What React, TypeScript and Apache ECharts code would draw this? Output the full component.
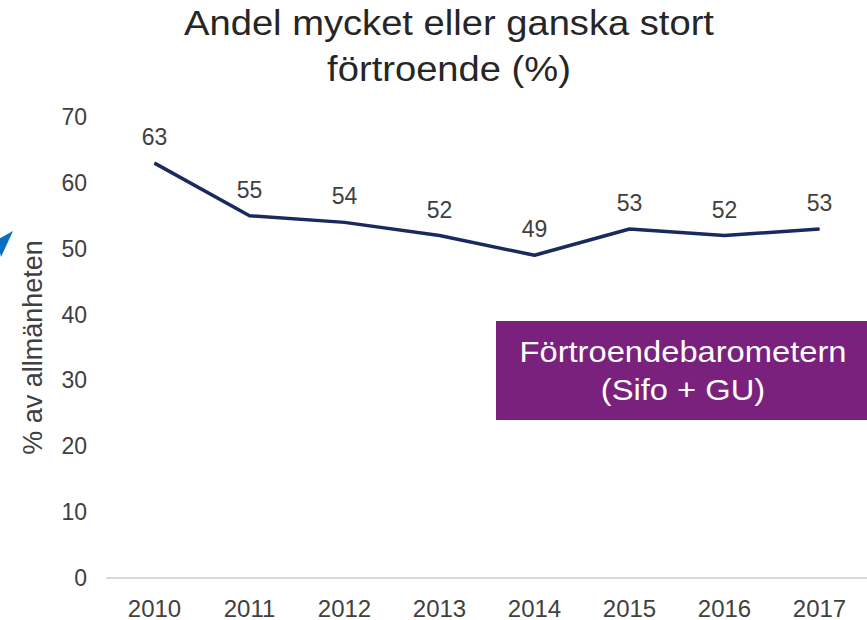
import React, { useEffect, useRef } from "react";
import * as echarts from "echarts";

const years = ["2010", "2011", "2012", "2013", "2014", "2015", "2016", "2017"];
const values = [63, 55, 54, 52, 49, 53, 52, 53];
const titleText = "Andel mycket eller ganska stort\nförtroende (%)";
const yName = "% av allmänheten";
const boxText = "Förtroendebarometern\n(Sifo + GU)";

export default function App() {
  const ref = useRef<HTMLDivElement>(null);
  useEffect(() => {
    const chart = echarts.init(ref.current!, undefined, { renderer: "svg" });
    const font = "Liberation Sans, Arial, sans-serif";
    chart.setOption({
      animation: false,
      backgroundColor: "#ffffff",
      textStyle: { fontFamily: font },
      grid: { left: 107, right: -15, top: 117, bottom: 42, containLabel: false },
      xAxis: {
        type: "category",
        data: years,
        boundaryGap: true,
        axisLine: { show: true, lineStyle: { color: "#d9d9d9", width: 2 } },
        axisTick: { show: false },
        axisLabel: { fontSize: 24, color: "#404040", margin: 18, fontFamily: font },
      },
      yAxis: {
        type: "value",
        min: 0,
        max: 70,
        interval: 10,
        name: yName,
        nameLocation: "middle",
        nameGap: 61,
        nameTextStyle: { fontSize: 27, color: "#404040", fontFamily: font },
        axisLine: { show: false },
        axisTick: { show: false },
        splitLine: { show: false },
        axisLabel: { fontSize: 23, color: "#404040", margin: 20, fontFamily: font },
      },
      series: [
        {
          type: "line",
          data: values,
          symbol: "circle",
          symbolSize: 1,
          itemStyle: { color: "#1b2a5e" },
          lineStyle: { color: "#1b2a5e", width: 3.5 },
          label: {
            show: true,
            position: "top",
            distance: 14,
            fontSize: 23,
            color: "#404040",
            fontFamily: font,
          },
        },
      ],
      graphic: [
        {
          type: "text",
          x: 449,
          y: 0,
          scaleX: 1.09,
          style: {
            text: titleText,
            fill: "#262626",
            fontSize: 35,
            lineHeight: 46,
            align: "center",
            verticalAlign: "top",
            fontFamily: font,
          },
        },
        {
          type: "rect",
          shape: { x: 496, y: 321, width: 380, height: 99 },
          style: { fill: "#7a217d" },
        },
        {
          type: "text",
          x: 683,
          y: 371,
          scaleX: 1.09,
          style: {
            text: boxText,
            fill: "#ffffff",
            fontSize: 30,
            lineHeight: 38,
            align: "center",
            verticalAlign: "middle",
            fontFamily: font,
          },
        },
        {
          type: "polygon",
          shape: { points: [[13, 231], [-3, 240], [1, 257]] },
          style: { fill: "#0a6fbf" },
        },
      ],
    });
    return () => chart.dispose();
  }, []);
  return (
    <div
      ref={ref}
      style={{ position: "fixed", left: 0, top: 0, width: 867, height: 620 }}
    />
  );
}
